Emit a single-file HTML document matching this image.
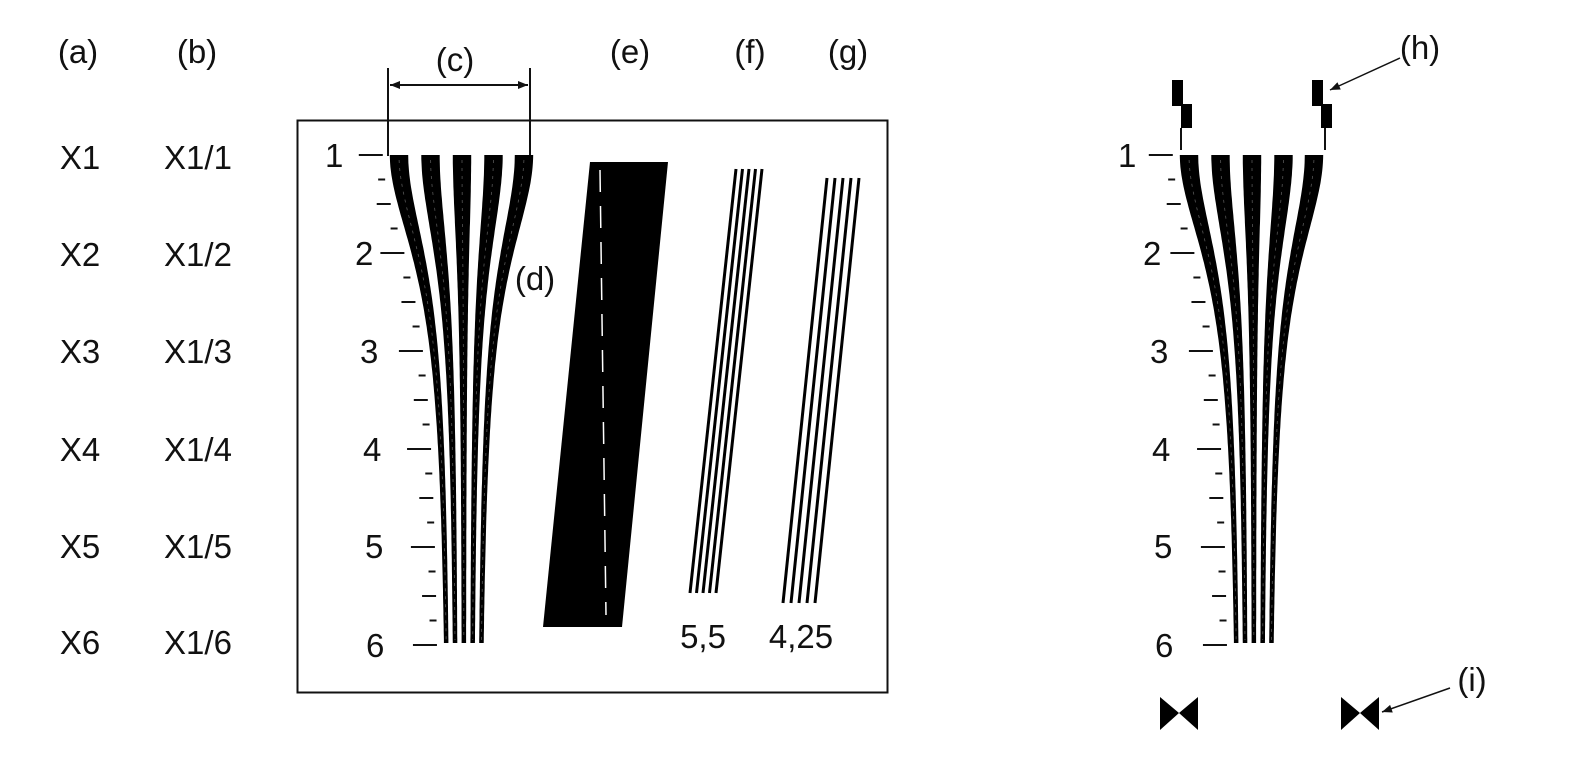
<!DOCTYPE html>
<html><head><meta charset="utf-8"><style>
html,body{margin:0;padding:0;background:#fff;}
svg{display:block;}
text{font-family:"Liberation Sans",sans-serif;font-size:33px;fill:#111;}
</style></head><body>
<svg id="s" width="1588" height="761" viewBox="0 0 1588 761" xmlns="http://www.w3.org/2000/svg">
<defs>
<marker id="ah" viewBox="0 0 10 10" refX="10" refY="5" markerWidth="14" markerHeight="10" markerUnits="userSpaceOnUse" orient="auto-start-reverse"><path d="M0,1 L10,5 L0,9 z" fill="#111"/></marker>
</defs>
<g text-anchor="middle">
<text x="78" y="63">(a)</text><text x="197" y="63">(b)</text><text x="455" y="71">(c)</text>
<text x="630" y="63">(e)</text><text x="750" y="63">(f)</text><text x="848" y="63">(g)</text>
<text x="535" y="290">(d)</text><text x="1420" y="59">(h)</text><text x="1472" y="691">(i)</text>
<text x="80" y="169">X1</text><text x="198" y="169">X1/1</text>
<text x="80" y="266">X2</text><text x="198" y="266">X1/2</text>
<text x="80" y="363">X3</text><text x="198" y="363">X1/3</text>
<text x="80" y="461">X4</text><text x="198" y="461">X1/4</text>
<text x="80" y="558">X5</text><text x="198" y="558">X1/5</text>
<text x="80" y="654">X6</text><text x="198" y="654">X1/6</text>
<text x="703" y="648">5,5</text><text x="801" y="648">4,25</text>
</g>
<rect x="297.5" y="120.5" width="590" height="572" fill="none" stroke="#111" stroke-width="2"/>
<line x1="388" y1="68" x2="388" y2="156" stroke="#111" stroke-width="2"/>
<line x1="530" y1="68" x2="530" y2="156" stroke="#111" stroke-width="2"/>
<line x1="390" y1="85" x2="528" y2="85" stroke="#111" stroke-width="2" marker-start="url(#ah)" marker-end="url(#ah)"/>
<polygon points="590,162 668,162 622,627 543,627" fill="#000"/>
<line x1="600" y1="170" x2="606" y2="615" stroke="#fff" stroke-width="1.5" stroke-dasharray="22,14"/>
<g stroke="#000" stroke-width="3">
<line x1="736" y1="169" x2="690" y2="593"/><line x1="742.5" y1="169" x2="696.5" y2="593"/><line x1="749" y1="169" x2="703" y2="593"/><line x1="755.5" y1="169" x2="709.5" y2="593"/><line x1="762" y1="169" x2="716" y2="593"/>
<line x1="827" y1="178" x2="783" y2="603"/><line x1="835" y1="178" x2="791" y2="603"/><line x1="843" y1="178" x2="799" y2="603"/><line x1="851" y1="178" x2="807" y2="603"/><line x1="859" y1="178" x2="815" y2="603"/>
</g>
<g fill="#000">
<rect x="1172" y="80" width="11" height="26"/><rect x="1181" y="104" width="11" height="24"/>
<rect x="1312" y="80" width="11" height="26"/><rect x="1321" y="104" width="11" height="24"/>
<polygon points="1160,697 1179,713 1160,730"/><polygon points="1198,697 1179,713 1198,730"/>
<polygon points="1341,697 1360,713 1341,730"/><polygon points="1379,697 1360,713 1379,730"/>
</g>
<line x1="1181" y1="128" x2="1181" y2="150" stroke="#111" stroke-width="2"/>
<line x1="1325" y1="128" x2="1325" y2="150" stroke="#111" stroke-width="2"/>
<line x1="1400" y1="58" x2="1330" y2="90" stroke="#111" stroke-width="1.5" marker-end="url(#ah)"/>
<line x1="1450" y1="688" x2="1382" y2="712" stroke="#111" stroke-width="1.5" marker-end="url(#ah)"/>
<g id="fans"></g>
</svg>
<script>
(function(){
var NS="http://www.w3.org/2000/svg",g=document.getElementById("fans");
function f(y){var d=y-155;if(d<0)d=0;return 1/(1+Math.pow(d/130,1.9));}
var tops=[399,430.5,462,493.5,524],bots=[450,457,464,471,478];
function el(n,a){var e=document.createElementNS(NS,n);for(var k in a)e.setAttribute(k,a[k]);g.appendChild(e);return e;}
function fan(off,labels){
 for(var i=0;i<5;i++){var L=[],R=[];
  for(var y=155;y<=645;y+=4){var F=f(y),c=bots[i]+(tops[i]-bots[i])*F+off,h=1.7+7.5*F;
   L.push((c-h).toFixed(1)+","+y);R.unshift((c+h).toFixed(1)+","+y);}
  el("polygon",{points:L.concat(R).join(" "),fill:"#000"});
  var P=[];for(var y=160;y<=640;y+=4){var F=f(y);P.push((bots[i]+(tops[i]-bots[i])*F+off).toFixed(1)+","+y);}
  el("polyline",{points:P.join(" "),fill:"none",stroke:"#555","stroke-width":"0.8","stroke-dasharray":"3,5"});
 }
 for(var k=0;k<=20;k++){var y=155+k*24.5,F=f(y),edge=bots[0]+(tops[0]-bots[0])*F-(1.7+7.5*F)+off-7;
  var len=(k%4==0)?24:(k%2==0?14:7);
  el("line",{x1:edge-len,y1:y,x2:edge,y2:y,stroke:"#111","stroke-width":"2"});}
 labels.forEach(function(l){var t=el("text",{x:l[0],y:l[1]});t.textContent=l[2];});
}
fan(0,[[325,167,"1"],[355,265,"2"],[360,363,"3"],[363,461,"4"],[365,558,"5"],[366,657,"6"]]);
fan(790,[[1118,167,"1"],[1143,265,"2"],[1150,363,"3"],[1152,461,"4"],[1154,558,"5"],[1155,657,"6"]]);
})();
</script>
</body></html>
